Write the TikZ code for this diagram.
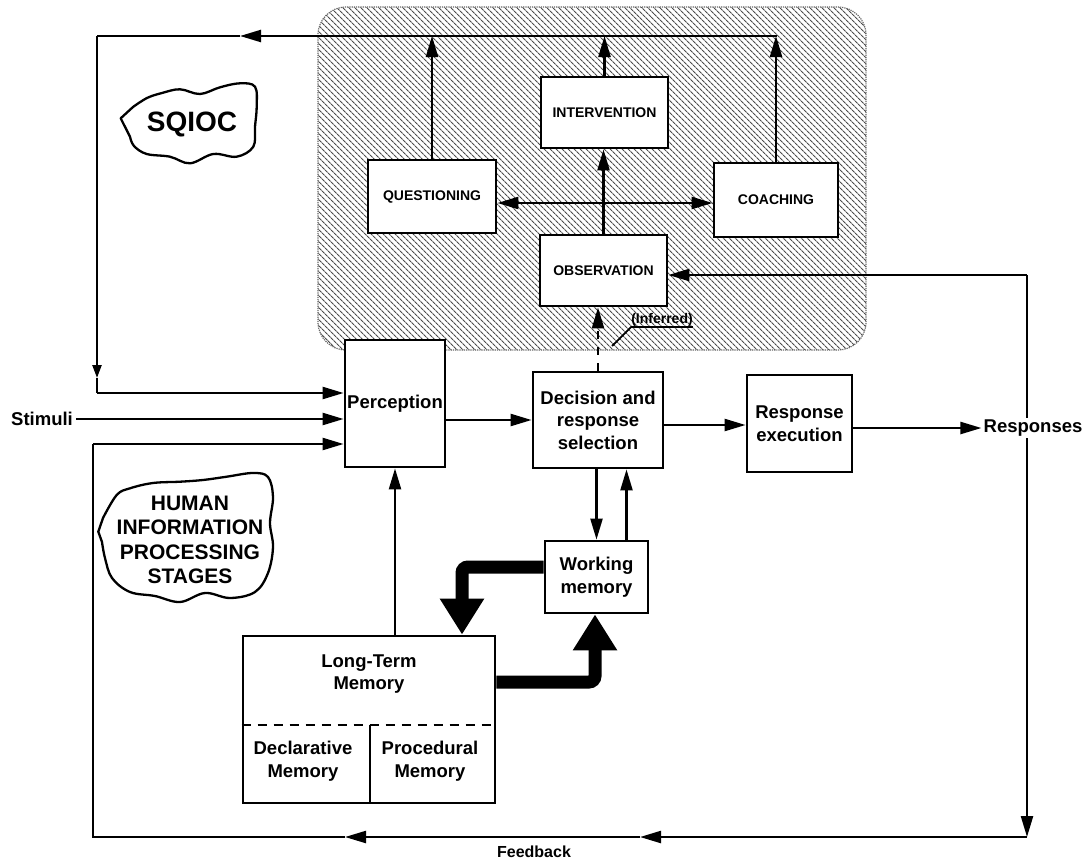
\documentclass[tikz,border=0pt]{standalone}
\usepackage{fontspec}
\setmainfont{Liberation Sans}
\usetikzlibrary{arrows.meta,patterns.meta}
\begin{document}
\begin{tikzpicture}[x=1pt,y=-1pt,
  box/.style={draw,line width=2.8pt,fill=white,inner sep=0pt,align=center,font=\bfseries\fontsize{18.5}{22.5}\selectfont},
  sbox/.style={box,font=\bfseries\fontsize{14}{16}\selectfont},
  conn/.style={line width=2.3pt},
  arr/.style={conn,-{Triangle[length=21pt,width=12pt]}},
  smallarr/.style={conn,-{Triangle[length=13pt,width=9pt]}},
  fatarrow/.style={line width=13pt,rounded corners=6pt,-{Triangle[length=36pt,width=42pt]}},
  lbl/.style={inner sep=0pt,align=center,font=\bfseries\fontsize{18.5}{22.5}\selectfont},
  cloud line/.style={line width=2.3pt,line join=round}]

\useasboundingbox (0,0) rectangle (1089,862);
\fill[white] (0,0) rectangle (1089,862);

% shaded SQIOC region
\path[pattern={Lines[angle=-45,distance=4pt,line width=1.2pt]},pattern color=black!70,rounded corners=28pt] (318,7) rectangle (866,350);
\draw[black!60,densely dotted,line width=1.2pt,rounded corners=28pt] (318,7) rectangle (866,350);

% SQIOC boxes
\node[sbox,minimum width=127pt,minimum height=71pt] (int) at (604.5,112.5) {INTERVENTION};
\node[sbox,minimum width=128pt,minimum height=73pt] (q) at (432,196.5) {QUESTIONING};
\node[sbox,minimum width=124pt,minimum height=74pt] (co) at (776,200) {COACHING};
\node[sbox,minimum width=127pt,minimum height=71pt] (obs) at (603.5,270.5) {OBSERVATION};

% processing stages boxes
\node[box,minimum width=100pt,minimum height=127pt] (per) at (395,403.5) {Perception};
\node[box,minimum width=130pt,minimum height=96pt] (dec) at (598,420) {Decision and\\response\\selection};
\node[box,minimum width=105pt,minimum height=97pt] (rex) at (799.5,423.5) {Response\\execution};
\node[box,minimum width=103pt,minimum height=72pt] (wm) at (596.5,577) {Working\\memory};
\node[box,minimum width=252pt,minimum height=167pt] (ltm) at (369,719.5) {};
\node[lbl] (ltmt) at (369,674) {Long-Term\\Memory};
\node[lbl] (decl) at (303,761) {Declarative\\Memory};
\node[lbl] (proc) at (430,761) {Procedural\\Memory};
\coordinate (dl) at (370,725);
\draw[line width=2.6pt,dash pattern=on 9pt off 7pt] (ltm.west |- dl) -- (ltm.east |- dl);
\draw[line width=2.6pt] (dl) -- (dl |- ltm.south);

% arrows inside SQIOC
\coordinate (hy) at (605,203);
\draw[arr,{Triangle[length=21pt,width=12pt]}-{Triangle[length=21pt,width=12pt]}] (q.east |- hy) -- (co.west |- hy);
\draw[arr] (obs.north) -- (obs.north |- int.south);
\coordinate (tl) at (97,36);
\coordinate (tr) at (777,36);
\coordinate (ta) at (240,36);
\coordinate (tv) at (97,378);
\coordinate (tlb) at (97,393);
\draw[arr] (q.north) -- (q.north |- tl);
\draw[arr] (int.north) -- (int.north |- tl);
\draw[arr] (co.north) -- (co.north |- tl);
\draw[arr] (tr) -- (ta);
\draw[conn] (ta) -- (tl);
\draw[smallarr] (tl) -- (tv);
\draw[conn] (tv) -- (tlb);
\draw[arr] (tlb) -- (per.west |- tlb);

% stimuli
\node[lbl] (stim) at (42,419) {Stimuli};
\draw[arr] ([xshift=3pt]stim.east) -- (per.west |- stim.east);

% main flow
\draw[arr] (per.east |- dec) -- (dec.west);
\draw[arr] (dec.east |- 0,425) -- (rex.west |- 0,425);
\draw[arr] (dec.south -| wm.north) -- (wm.north);
\draw[arr] ([xshift=30pt]wm.north) -- ([xshift=30pt]wm.north |- dec.south);
\draw[arr] (ltm.north -| per.south) -- (per.south);

% inferred
\draw[arr,dash pattern=on 8pt off 8pt] (dec.north) -- (dec.north |- obs.south);
\node[inner sep=0pt,font=\bfseries\fontsize{14}{16}\selectfont,anchor=south] (inf) at (662,327) {(Inferred)};
\coordinate (il) at (612,346);
\draw[line width=1.8pt] (il) -- (inf.south west) -- (inf.south east);

% memory fat arrows
\coordinate (k1) at (462,567);
\draw[fatarrow] (wm.west |- k1) -- (k1) -- (k1 |- ltm.north);
\coordinate (k2) at (595,682);
\draw[fatarrow] (ltm.east |- k2) -- (k2) -- (k2 |- wm.south);

% feedback loop
\coordinate (rtop) at (1027,275);
\coordinate (rbot) at (1027,837);
\coordinate (b1) at (640,837);
\coordinate (b2) at (345,837);
\coordinate (lb) at (93,837);
\coordinate (lt) at (93,444);
\draw[arr] (rtop) -- (obs.east |- rtop);
\draw[arr] (rtop) -- (rbot);
\draw[arr] (rbot) -- (b1);
\draw[arr] (b1) -- (b2);
\draw[conn] (b2) -- (lb) -- (lt);
\draw[arr] (lt) -- (per.west |- lt);

\node[lbl,fill=white,inner sep=2pt] (resp) at (1033,428) {Responses};
\draw[arr] (rex.east |- 0,428) -- (resp.west);
\node[inner sep=0pt,font=\bfseries\fontsize{16}{18}\selectfont] (fb) at (534,852) {Feedback};

% clouds
\draw[cloud line] (120.7,118.3) -- plot[smooth,tension=0.6] coordinates {(133,107) (147,98) (162,93) (180,89.3) (200,94) (220,87.3) (240,83.3) (255,86.7) (256.7,106.7) (255,126.7) (253.3,146.7) (236.7,156.7) (213.3,154) (190,163.3) (170,156.7) (146.7,154) (134,146) (130,136.7)} -- cycle;
\node[inner sep=0pt,font=\bfseries\fontsize{28}{30}\selectfont] (sq) at (192,124) {SQIOC};

\draw[cloud line] (98.3,531.7) -- plot[smooth,tension=0.6] coordinates {(103,518) (116.7,495) (130,488.3) (153,483) (180,481.7) (203,480) (226.7,476.7) (253,473) (268,477) (273,497) (270,523) (273,547) (268,573) (255,592) (230,598) (205,593) (180,602) (155,596) (130,592) (112,578) (105,558) (102,542)} -- cycle;
\node[inner sep=0pt,align=center,font=\bfseries\fontsize{21}{24.5}\selectfont] (hips) at (190,540) {HUMAN\\INFORMATION\\PROCESSING\\STAGES};
\end{tikzpicture}
\end{document}
